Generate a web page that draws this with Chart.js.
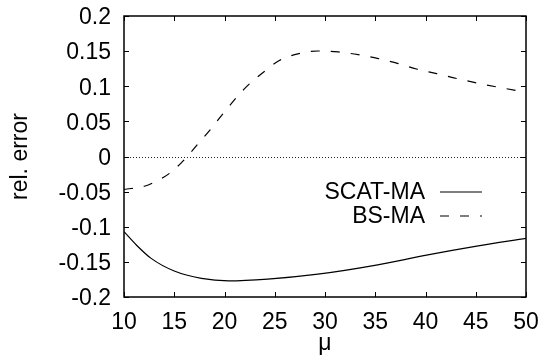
<!DOCTYPE html>
<html>
<head>
<meta charset="utf-8">
<script src="https://cdn.jsdelivr.net/npm/chart.js@4.4.1/dist/chart.umd.min.js"></script>
<style>
html,body{margin:0;padding:0;background:#fff;}
#wrap{width:543px;height:360px;}
</style>
</head>
<body>
<div id="wrap"><canvas id="c" width="543" height="360"></canvas></div>
<script>
// ---- data ----
const scatMu  = [10, 11.3, 12.7, 15.0, 17.7, 20.4, 24.3, 29.3, 35.1, 40.1, 45.1, 50];
const scatErr = [-0.107, -0.127, -0.145, -0.163, -0.1735, -0.177, -0.1745, -0.1675, -0.1546, -0.1404, -0.1276, -0.1166];

const bsMu  = [10, 12.1, 12.9, 13.9, 14.7, 15.7, 17.4, 18.4, 20.0, 22.0, 23.9, 25.5, 27.4, 29.3, 31.3, 33.3, 35.3, 37.3, 39.1, 41.1, 43.1, 45.1, 47.1, 50];
const bsErr = [-0.047, -0.042, -0.0375, -0.030, -0.022, -0.009, 0.0185, 0.035, 0.0635, 0.0967, 0.1203, 0.137, 0.1465, 0.1502, 0.1488, 0.145, 0.1394, 0.1323, 0.1246, 0.118, 0.111, 0.1047, 0.099, 0.0915];

const xTickLabels = ['10', '15', '20', '25', '30', '35', '40', '45', '50'];
const yTickLabels = ['-0.2', '-0.15', '-0.1', '-0.05', '0', '0.05', '0.1', '0.15', '0.2'];

const seriesNames = ['SCAT-MA', 'BS-MA'];
const xTitle = 'μ';
const yTitle = 'rel. error';

const FONT = "'Liberation Sans', Arial, Helvetica, sans-serif";
const FS = 23;
const toPts = (xs, ys) => xs.map((x, i) => ({x: x, y: ys[i]}));

// ---- plugins ----
const framePlugin = {
  id: 'frame',
  beforeDatasetsDraw(chart) {
    const {ctx, chartArea: a, scales} = chart;
    const y0 = scales.y.getPixelForValue(0);
    ctx.save();
    ctx.strokeStyle = '#222';
    ctx.lineWidth = 1;
    ctx.setLineDash([1, 2]);
    ctx.beginPath();
    ctx.moveTo(a.left, Math.round(y0) + 0.5);
    ctx.lineTo(a.right, Math.round(y0) + 0.5);
    ctx.stroke();
    ctx.restore();
  },
  afterDraw(chart) {
    const {ctx, chartArea: a, scales} = chart;
    ctx.save();
    ctx.strokeStyle = '#000';
    ctx.lineWidth = 1;
    const L = 5;
    ctx.beginPath();
    scales.x.ticks.forEach(t => {
      const px = Math.round(scales.x.getPixelForValue(t.value)) + 0.5;
      ctx.moveTo(px, a.bottom); ctx.lineTo(px, a.bottom - L);
      ctx.moveTo(px, a.top); ctx.lineTo(px, a.top + L);
    });
    scales.y.ticks.forEach(t => {
      const py = Math.round(scales.y.getPixelForValue(t.value)) + 0.5;
      ctx.moveTo(a.left, py); ctx.lineTo(a.left + L, py);
      ctx.moveTo(a.right, py); ctx.lineTo(a.right - L, py);
    });
    ctx.stroke();
    ctx.lineWidth = 1.5;
    ctx.strokeRect(a.left, a.top, a.right - a.left, a.bottom - a.top);
    // legend
    ctx.font = FS + 'px ' + FONT;
    ctx.fillStyle = '#000';
    ctx.textAlign = 'right';
    ctx.textBaseline = 'middle';
    const textRight = a.right - 101;
    const lx0 = a.right - 86, lx1 = a.right - 44;
    const rows = [a.top + 176, a.top + 200];
    chart.data.datasets.forEach((ds, i) => {
      ctx.fillText(ds.label, textRight, rows[i] + 1);
      ctx.save();
      ctx.lineWidth = ds.borderWidth;
      ctx.strokeStyle = ds.borderColor;
      ctx.setLineDash(ds.borderDash || []);
      ctx.beginPath();
      ctx.moveTo(lx0, rows[i]);
      ctx.lineTo(lx1, rows[i]);
      ctx.stroke();
      ctx.restore();
    });
    ctx.restore();
  }
};

new Chart(document.getElementById('c'), {
  type: 'line',
  data: {
    datasets: [
      {
        label: seriesNames[0],
        data: toPts(scatMu, scatErr),
        borderColor: '#000',
        borderWidth: 1.2,
        pointRadius: 0,
        cubicInterpolationMode: 'monotone',
        fill: false
      },
      {
        label: seriesNames[1],
        data: toPts(bsMu, bsErr),
        borderColor: '#000',
        borderWidth: 1.2,
        borderDash: [9, 11],
        pointRadius: 0,
        cubicInterpolationMode: 'monotone',
        fill: false
      }
    ]
  },
  options: {
    responsive: false,
    animation: false,
    devicePixelRatio: 1,
    layout: {padding: {top: 16, right: 17, left: 0, bottom: 0}},
    plugins: {legend: {display: false}, tooltip: {enabled: false}},
    scales: {
      x: {
        type: 'linear',
        min: 10, max: 50,
        grid: {display: false, drawTicks: false},
        border: {display: false},
        ticks: {
          stepSize: 5, autoSkip: false, maxRotation: 0, padding: 12,
          color: '#000', font: {family: FONT, size: FS},
          callback: (v, i) => xTickLabels[i]
        },
        title: {display: true, text: xTitle, color: '#000', font: {family: FONT, size: FS}, padding: {top: 0, bottom: 3}},
        afterFit: s => { s.height = 63; s.paddingLeft = 0; s.paddingRight = 0; }
      },
      y: {
        type: 'linear',
        min: -0.2, max: 0.2,
        grid: {display: false, drawTicks: false},
        border: {display: false},
        ticks: {
          stepSize: 0.05, autoSkip: false, padding: 13, labelOffset: 2,
          color: '#000', font: {family: FONT, size: FS},
          callback: (v, i) => yTickLabels[i]
        },
        title: {display: true, text: yTitle, color: '#000', font: {family: FONT, size: FS}, padding: {top: 7, bottom: 0}},
        afterFit: s => { s.width = 124; s.paddingTop = 0; s.paddingBottom = 0; }
      }
    }
  },
  plugins: [framePlugin]
});
</script>
</body>
</html>
